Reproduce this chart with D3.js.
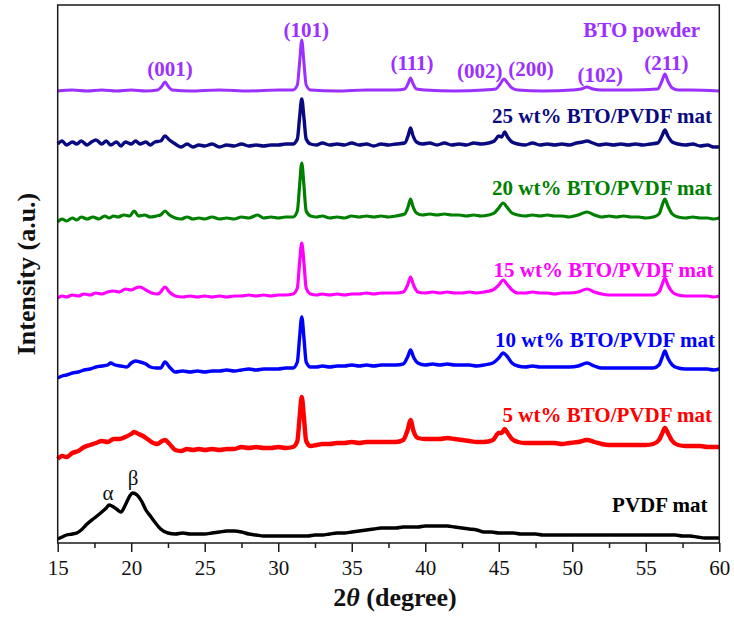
<!DOCTYPE html>
<html>
<head>
<meta charset="utf-8">
<script src="https://cdn.jsdelivr.net/npm/d3@7"></script>
<style>
  html, body { margin: 0; padding: 0; background: #fff; }
  svg { display: block; }
  svg text { font-family: "Liberation Serif", "Times New Roman", Times, "DejaVu Serif", serif; }
</style>
</head>
<body>
<svg id="chart" width="734" height="617"></svg>
<script>
// --- Data: [2theta (deg), intensity (a.u., stacked)] ------------------
const btoPowder = [[15,452],[16,453],[17,452],[18,453],[19,452],[20,453],[21,452],[21.8,453],[22.1,457],[22.3,461],[22.5,457],[22.8,453],[24,452],[26,453],[28,452],[30,453],[31,453],[31.3,458],[31.45,480],[31.6,503],[31.75,480],[31.9,458],[32.2,453],[34,452],[36,453],[38,453],[38.6,454],[38.85,460],[39,465],[39.15,460],[39.4,454],[40,453],[42,452],[44,453],[44.8,454],[45.1,459],[45.35,464],[45.6,460],[45.9,455],[46.3,453],[48,452],[50,453],[50.6,454],[51,456],[51.4,454],[52,453],[54,453],[55.8,454],[56.1,462],[56.3,469],[56.5,462],[56.8,455],[57.2,453],[58,453],[60,452]];

const wt25 = [[15,399],[15.3,402],[15.6,398],[16,401],[16.3,399],[16.6,402],[17,398],[17.3,401],[17.6,403],[18,399],[18.3,402],[18.6,398],[19,401],[19.3,397],[19.6,401],[20,399],[20.3,402],[20.6,399],[21,401],[21.3,398],[21.6,401],[22,402],[22.3,407],[22.6,403],[23,399],[23.4,396],[23.8,399],[24.2,396],[24.6,398],[25,397],[25.5,399],[26,396],[26.5,398],[27,397],[27.5,399],[28,397],[28.5,398],[29,397],[29.5,398],[30,398],[30.5,399],[31,399],[31.3,404],[31.45,425],[31.6,444],[31.75,425],[31.9,404],[32.2,399],[32.6,398],[33,400],[33.5,398],[34,399],[34.5,398],[35,400],[35.5,398],[36,399],[36.5,397],[37,399],[37.5,398],[38,399],[38.6,400],[38.85,408],[39,415],[39.15,408],[39.4,401],[39.8,399],[40.3,400],[40.8,398],[41.3,400],[41.8,398],[42.3,399],[42.8,398],[43.3,400],[43.8,399],[44.3,400],[44.7,402],[45,407],[45.2,406],[45.4,411],[45.6,406],[45.9,401],[46.3,399],[46.8,398],[47.3,400],[47.8,398],[48.3,399],[48.8,398],[49.3,399],[49.8,398],[50.3,400],[50.7,401],[51,402],[51.4,400],[51.8,398],[52.3,399],[52.8,398],[53.3,399],[53.8,398],[54.3,399],[54.8,398],[55.3,399],[55.8,400],[56.1,407],[56.3,413],[56.5,407],[56.8,401],[57.2,399],[57.7,398],[58.2,399],[58.7,397],[59.2,398],[59.6,396],[60,396]];

const wt20 = [[15,321],[15.3,324],[15.6,322],[16,325],[16.3,323],[16.6,326],[17,324],[17.4,326],[17.8,324],[18.2,327],[18.5,325],[18.8,327],[19.1,326],[19.5,328],[19.9,327],[20.2,332],[20.5,327],[20.9,328],[21.3,326],[21.7,327],[22,328],[22.3,332],[22.6,328],[23,325],[23.4,324],[23.8,326],[24.2,324],[24.6,325],[25,324],[25.5,326],[26,324],[26.5,325],[27,324],[27.5,326],[28,325],[28.6,328],[29,325],[29.5,326],[30,325],[30.5,326],[31,326],[31.3,332],[31.45,357],[31.6,380],[31.75,357],[31.9,332],[32.2,327],[32.6,326],[33,327],[33.5,325],[34,326],[34.5,325],[35,327],[35.5,326],[36,327],[36.5,326],[37,327],[37.5,326],[38,327],[38.6,329],[38.85,337],[39,344],[39.15,337],[39.4,330],[39.8,328],[40.3,329],[40.8,328],[41.3,329],[41.8,328],[42.3,328],[42.8,327],[43.3,328],[43.8,327],[44.3,328],[44.7,330],[45,335],[45.3,340],[45.55,336],[45.9,330],[46.3,328],[46.8,327],[47.3,328],[47.8,327],[48.3,328],[48.8,327],[49.3,327],[49.8,326],[50.4,328],[51,331],[51.5,328],[52,326],[52.5,327],[53,326],[53.5,327],[54,326],[54.5,326],[55,325],[55.5,326],[55.9,329],[56.1,337],[56.3,344],[56.5,337],[56.8,329],[57.2,326],[57.7,325],[58.2,326],[58.7,325],[59.2,325],[59.6,324],[60,325]];

const wt15 = [[15,245],[15.3,247],[15.6,246],[16,248],[16.4,247],[16.8,249],[17.2,248],[17.6,250],[18,249],[18.4,251],[18.8,252],[19.2,251],[19.6,254],[20,253],[20.3,255],[20.6,256],[21,253],[21.4,250],[21.8,249],[22,251],[22.3,256],[22.6,251],[23,247],[23.5,246],[24,247],[24.5,246],[25,247],[25.5,246],[26,247],[26.5,246],[27,247],[27.5,247],[28,248],[28.5,247],[29,248],[29.5,247],[30,248],[30.5,248],[31,249],[31.3,255],[31.45,280],[31.6,300],[31.75,280],[31.9,255],[32.2,249],[32.6,248],[33,249],[33.5,248],[34,249],[34.5,248],[35,249],[35.5,249],[36,250],[36.5,249],[37,250],[37.5,250],[38,250],[38.5,251],[38.8,258],[39,266],[39.2,258],[39.5,251],[40,250],[40.5,251],[41,250],[41.5,251],[42,250],[42.5,250],[43,251],[43.5,250],[44,251],[44.6,253],[45,258],[45.3,263],[45.55,259],[45.9,253],[46.3,250],[46.8,250],[47.3,251],[47.8,250],[48.3,250],[48.8,249],[49.3,250],[49.8,250],[50.4,251],[51,254],[51.5,251],[52,249],[52.5,248],[53,248],[53.5,248],[54,248],[54.5,248],[55,248],[55.5,248],[55.9,251],[56.1,258],[56.3,265],[56.5,258],[56.8,251],[57.2,248],[57.7,247],[58.2,247],[58.7,247],[59.2,247],[59.6,246],[60,247]];

const wt10 = [[15,165],[15.3,167],[15.6,168],[16,170],[16.4,171],[16.8,173],[17.2,174],[17.6,176],[18,177],[18.4,178],[18.6,180],[18.9,178],[19.3,177],[19.7,176],[20,180],[20.3,182],[20.6,181],[21,179],[21.3,176],[21.7,175],[22,175],[22.3,181],[22.6,176],[23,171],[23.5,172],[24,171],[24.5,172],[25,171],[25.5,172],[26,172],[26.5,173],[27,172],[27.5,173],[28,174],[28.5,173],[29,174],[29.5,174],[30,174],[30.5,175],[31,175],[31.3,181],[31.45,205],[31.6,226],[31.75,205],[31.9,181],[32.2,176],[32.6,176],[33,177],[33.5,176],[34,177],[34.5,177],[35,178],[35.5,177],[36,178],[36.5,177],[37,178],[37.5,178],[38,178],[38.5,179],[38.8,186],[39,193],[39.2,186],[39.5,180],[40,178],[40.5,179],[41,178],[41.5,179],[42,178],[42.5,178],[43,178],[43.5,177],[44,178],[44.6,180],[45,185],[45.3,190],[45.55,187],[45.9,180],[46.3,177],[46.8,176],[47.3,177],[47.8,176],[48.3,176],[48.8,176],[49.3,176],[49.8,176],[50.4,177],[51,180],[51.5,177],[52,175],[52.5,175],[53,175],[53.5,175],[54,175],[54.5,175],[55,175],[55.5,175],[55.9,178],[56.1,185],[56.3,192],[56.5,185],[56.8,178],[57.2,175],[57.7,174],[58.2,174],[58.7,174],[59.2,174],[59.6,173],[60,174]];

const wt5 = [[15,84],[15.3,87],[15.6,86],[16,90],[16.4,92],[16.8,96],[17.2,98],[17.6,100],[18,102],[18.4,101],[18.8,104],[19.2,104],[19.6,106],[20,109],[20.2,111],[20.5,109],[20.8,107],[21.1,104],[21.5,100],[21.8,99],[22,101],[22.3,103],[22.6,99],[23,93],[23.4,92],[23.8,94],[24.2,93],[24.6,94],[25,93],[25.5,94],[26,93],[26.5,94],[27,94],[27.5,96],[28,95],[28.5,96],[29,95],[29.5,95],[30,96],[30.5,95],[31,96],[31.3,102],[31.45,125],[31.6,146],[31.75,125],[31.9,102],[32.2,97],[32.6,98],[33,99],[33.5,99],[34,100],[34.5,100],[35,101],[35.5,100],[36,101],[36.5,101],[37,101],[37.5,101],[38,101],[38.5,103],[38.8,113],[39,123],[39.2,112],[39.5,105],[40,104],[40.5,104],[41,104],[41.5,105],[42,104],[42.5,103],[43,102],[43.5,101],[44,101],[44.6,103],[45,110],[45.2,110],[45.4,114],[45.6,110],[45.9,104],[46.3,101],[46.8,100],[47.3,100],[47.8,100],[48.3,100],[48.8,100],[49.3,99],[49.8,100],[50.4,101],[51,103],[51.5,101],[52,99],[52.5,98],[53,98],[53.5,98],[54,98],[54.5,98],[55,98],[55.5,99],[55.9,103],[56.1,109],[56.3,115],[56.5,110],[56.8,102],[57.2,98],[57.7,97],[58.2,97],[58.7,97],[59.2,96],[59.6,96],[60,96]];

const pvdf = [[15,4],[15.3,6],[15.6,8],[16,9],[16.3,10],[16.6,13],[17,19],[17.5,25],[18,31],[18.3,35],[18.5,38],[18.8,36],[19,34],[19.3,31],[19.6,38],[19.9,47],[20.1,50],[20.4,48],[20.7,42],[21,33],[21.3,27],[21.6,21],[22,14],[22.5,10],[23,9],[23.5,10],[24,9],[24.5,9],[25,9],[25.5,10],[26,11],[26.5,12],[27,12],[27.5,11],[28,9],[28.5,8],[29,7],[29.5,7],[30,7],[30.5,7],[31,7],[31.5,7],[32,7],[32.5,8],[33,8],[33.5,9],[34,10],[34.5,10],[35,11],[35.5,12],[36,13],[36.5,14],[37,15],[37.5,15],[38,15],[38.5,16],[39,16],[39.5,16],[40,17],[40.5,17],[41,17],[41.5,17],[42,16],[42.5,15],[43,14],[43.5,13],[44,11],[44.5,11],[45,10],[45.5,10],[46,10],[46.5,9],[47,9],[47.5,9],[48,8],[48.5,8],[49,8],[49.5,8],[50,8],[51,8],[52,8],[53,8],[54,8],[55,8],[56,8],[56.5,8],[57,8],[57.5,7],[58,7],[58.5,6],[59,5],[59.5,5],[60,5]];

const seriesNames = ['BTO powder', '25 wt% BTO/PVDF mat', '20 wt% BTO/PVDF mat', '15 wt% BTO/PVDF mat', '10 wt% BTO/PVDF mat', '5 wt% BTO/PVDF mat', 'PVDF mat'];
const seriesValues = [btoPowder, wt25, wt20, wt15, wt10, wt5, pvdf];
const seriesColors = ['#9b30ff', '#0a0a80', '#008000', '#ff00ff', '#0000ff', '#ff0000', '#000000'];
const seriesWidths = [3, 3.4, 3.2, 3.2, 3.4, 4.4, 3.4];
// where each name sits: right end (2theta) and baseline (intensity)
const seriesLabelAt = [[58.7, 506], [59.5, 420], [59.5, 348], [59.6, 266], [59.7, 196], [59.5, 121], [59.2, 31]];

const hklLabels = ['(001)', '(101)', '(111)', '(002)', '(200)', '(102)', '(211)'];
const hklAt = [[22.64, 467], [31.9, 506], [39.1, 473], [43.7, 465], [47.2, 467], [51.9, 461], [56.4, 473]];

const phaseLabels = ['α', 'β'];
const phaseAt = [[18.43, 43], [20.13, 58]];

const xTicks = [15, 20, 25, 30, 35, 40, 45, 50, 55, 60];
const xMinorTicks = [17.5, 22.5, 27.5, 32.5, 37.5, 42.5, 47.5, 52.5, 57.5];

// --- Layout ------------------------------------------------------------
const serif = '"Liberation Serif", "Times New Roman", Times, "DejaVu Serif", serif';
const margin = { top: 5, right: 14.7, bottom: 74, left: 57.7 };
const W = 734, H = 617;
const svg = d3.select('#chart').attr('font-family', serif);

const x = d3.scaleLinear().domain([15, 60]).range([margin.left, W - margin.right]);
const y = d3.scaleLinear().domain([0, 538]).range([H - margin.bottom, margin.top]);

const line = d3.line()
  .x(d => x(d[0]))
  .y(d => y(d[1]))
  .curve(d3.curveMonotoneX);

// traces
svg.append('g').selectAll('path')
  .data(seriesValues)
  .join('path')
  .attr('d', line)
  .attr('fill', 'none')
  .attr('stroke', (d, i) => seriesColors[i])
  .attr('stroke-width', (d, i) => seriesWidths[i])
  .attr('stroke-linejoin', 'round');

// frame
svg.append('rect')
  .attr('x', x(15)).attr('y', y(538))
  .attr('width', x(60) - x(15)).attr('height', y(0) - y(538))
  .attr('fill', 'none').attr('stroke', '#1a1a1a').attr('stroke-width', 1.5);

// x axis, outward ticks
const xAxis = svg.append('g')
  .attr('transform', `translate(0,${y(0)})`)
  .call(d3.axisBottom(x).tickValues(xTicks).tickSize(9).tickPadding(8).tickFormat(d3.format('d')))
  .attr('font-family', serif);
xAxis.select('.domain').remove();
xAxis.selectAll('line').attr('stroke', '#1a1a1a').attr('stroke-width', 1.5);
xAxis.selectAll('text').attr('font-size', 21).attr('fill', '#111').attr('font-family', serif);

const xMinor = svg.append('g')
  .attr('transform', `translate(0,${y(0)})`)
  .call(d3.axisBottom(x).tickValues(xMinorTicks).tickSize(5).tickFormat(''));
xMinor.select('.domain').remove();
xMinor.selectAll('line').attr('stroke', '#1a1a1a').attr('stroke-width', 1.5);

// axis titles
const xTitle = svg.append('text')
  .attr('x', 395).attr('y', 606)
  .attr('text-anchor', 'middle')
  .attr('font-family', serif)
  .attr('font-size', 26).attr('font-weight', 'bold').attr('fill', '#111');
xTitle.append('tspan').text('2');
xTitle.append('tspan').attr('font-style', 'italic').text('θ');
xTitle.append('tspan').text(' (degree)');

svg.append('text')
  .attr('transform', 'translate(35,274) rotate(-90)')
  .attr('text-anchor', 'middle')
  .attr('font-family', serif)
  .attr('font-size', 26).attr('font-weight', 'bold').attr('fill', '#111')
  .text('Intensity (a.u.)');

// series names
svg.append('g').selectAll('text')
  .data(seriesNames)
  .join('text')
  .attr('x', (d, i) => x(seriesLabelAt[i][0]))
  .attr('y', (d, i) => y(seriesLabelAt[i][1]))
  .attr('text-anchor', 'end')
  .attr('font-family', serif)
  .attr('font-size', 21).attr('font-weight', 'bold')
  .attr('fill', (d, i) => seriesColors[i])
  .text(d => d);

// Miller indices over the BTO peaks
svg.append('g').selectAll('text')
  .data(hklLabels)
  .join('text')
  .attr('x', (d, i) => x(hklAt[i][0]))
  .attr('y', (d, i) => y(hklAt[i][1]))
  .attr('text-anchor', 'middle')
  .attr('font-family', serif)
  .attr('font-size', 21).attr('font-weight', 'bold')
  .attr('fill', seriesColors[0])
  .text(d => d);

// PVDF phases
svg.append('g').selectAll('text')
  .data(phaseLabels)
  .join('text')
  .attr('x', (d, i) => x(phaseAt[i][0]))
  .attr('y', (d, i) => y(phaseAt[i][1]))
  .attr('text-anchor', 'middle')
  .attr('font-family', serif)
  .attr('font-size', 21)
  .attr('fill', '#111')
  .text(d => d);
</script>
</body>
</html>
